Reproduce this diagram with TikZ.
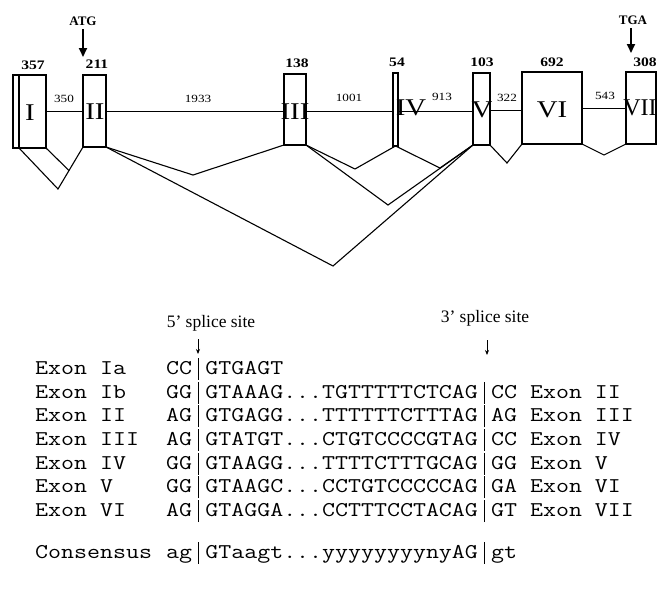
\documentclass[tikz,border=0pt]{standalone}
\usepackage{fontspec}
\setmainfont{Liberation Serif}
\usetikzlibrary{arrows.meta,calc}
\newcommand{\sx}[1]{\scalebox{1.2}[1]{#1}}
\newcommand{\mono}[1]{\scalebox{1.2}[1]{\ttfamily #1}}
\newcommand{\sbar}{\makebox[0.525em]{\rule[-0.26em]{0.055em}{1.05em}}}
\begin{document}
\begin{tikzpicture}[x=1pt,y=-1pt,
  ebox/.style={draw, line width=1.8pt, inner sep=0pt, outer sep=0pt},
  intron/.style={line width=0.7pt},
  splice/.style={line width=1.1pt, line join=miter},
  rom/.style={inner sep=0pt, font=\fontsize{24}{24}\selectfont},
  len/.style={inner sep=0pt, font=\fontsize{13}{13}\selectfont\bfseries},
  ilen/.style={inner sep=0pt, font=\fontsize{11}{11}\selectfont},
  cod/.style={inner sep=0pt, font=\fontsize{13}{13}\selectfont\bfseries},
  bigarrow/.style={line width=2pt, -{Triangle[width=8pt,length=9pt]}},
  site/.style={inner sep=0pt, font=\fontsize{17.5}{17.5}\selectfont},
  smallarrow/.style={line width=0.8pt, -{Stealth[width=4pt,length=5pt]}},
  seq/.style={inner sep=0pt, anchor=base west, font=\fontsize{21}{21}\selectfont}
]
\useasboundingbox (0,0) rectangle (657,592);

% exons
\node[ebox, minimum width=6pt, minimum height=73pt] (e1a) at (16,111.5) {};
\node[ebox, minimum width=27pt, minimum height=73pt] (e1) at (32.5,111.5) {};
\node[ebox, minimum width=23pt, minimum height=72pt] (e2) at (94.5,111) {};
\node[ebox, minimum width=22pt, minimum height=71pt] (e3) at (295,109.5) {};
\node[ebox, minimum width=5pt, minimum height=73pt] (e4) at (395.5,109.5) {};
\node[ebox, minimum width=17pt, minimum height=72pt] (e5) at (481.5,109) {};
\node[ebox, minimum width=60pt, minimum height=72pt] (e6) at (552,108) {};
\node[ebox, minimum width=30pt, minimum height=72pt] (e7) at (641,108) {};

% introns
\draw[intron] (e1.east |- e2.east) -- (e2.west);
\draw[intron] (e2.east) -- (e3.west |- e2.east);
\draw[intron] (e3.east |- e2.east) -- (e4.west |- e2.east);
\draw[intron] (e4.east |- e2.east) -- (e5.west |- e2.east);
\draw[intron] (e5.east |- 0,110) -- (e6.west |- 0,110);
\draw[intron] (e6.east |- 0,108) -- (e7.west |- 0,108);

% splicing
\coordinate (a1) at (58,189);
\coordinate (a2) at (193,175);
\coordinate (a3) at (333,266);
\coordinate (a4) at (355,169);
\coordinate (a5) at (388,205);
\coordinate (a6) at (440,168);
\coordinate (a7) at (507,163);
\coordinate (a8) at (604,155);
\draw[splice] (e1.south west) -- (a1) -- (e2.south west);
\draw[splice] (e1.south east) -- ($(a1)!0.44!(e2.south west)$);
\draw[splice] (e2.south east) -- (a2) -- (e3.south west);
\draw[splice] (e2.south east) -- (a3) -- (e5.south west);
\draw[splice] (e3.south east) -- (a4) -- (e4.south);
\draw[splice] (e3.south east) -- (a5) -- (e5.south west);
\draw[splice] (e4.south) -- (a6) -- (e5.south west);
\draw[splice] (e5.south east) -- (a7) -- (e6.south west);
\draw[splice] (e6.south east) -- (a8) -- (e7.south west);

% roman numerals
\node[rom] (r1) at (30,113) {\sx{I}};
\node[rom] (r2) at (95,112) {\sx{II}};
\node[rom] (r3) at (295,112) {\sx{III}};
\node[rom] (r4) at (411,108) {\sx{IV}};
\node[rom] (r5) at (482,110) {\sx{V}};
\node[rom] (r6) at (552,110) {\sx{VI}};
\node[rom] (r7) at (640,108) {VII};

% exon lengths
\node[len] (l1) at (33,65) {\sx{357}};
\node[len] (l2) at (97,64) {\sx{211}};
\node[len] (l3) at (297,63) {\sx{138}};
\node[len] (l4) at (397,62) {\sx{54}};
\node[len] (l5) at (482,62) {\sx{103}};
\node[len] (l6) at (552,62) {\sx{692}};
\node[len] (l7) at (645,62) {\sx{308}};

% intron lengths
\node[ilen] (i1) at (64,99) {\sx{350}};
\node[ilen] (i2) at (198,99) {\sx{1933}};
\node[ilen] (i3) at (349,98) {\sx{1001}};
\node[ilen] (i4) at (442,97) {\sx{913}};
\node[ilen] (i5) at (507,98) {\sx{322}};
\node[ilen] (i6) at (605,96) {\sx{543}};

% start / stop codons
\node[cod] (atg) at (83,21) {ATG};
\coordinate (atgend) at (83,57);
\draw[bigarrow] (83,29) -- (atgend);
\node[cod] (tga) at (633,20) {TGA};
\coordinate (tgaend) at (631,53);
\draw[bigarrow] (631,28) -- (tgaend);

% splice site labels
\node[site] (s5) at (211,323) {5’ splice site};
\coordinate (s5end) at (198,354);
\draw[smallarrow] (198,339) -- (s5end);
\node[site] (s3) at (485,318) {3’ splice site};
\coordinate (s3end) at (487,355);
\draw[smallarrow] (487,340) -- (s3end);

% sequence table
\node[seq] (n0) at (35,374.4) {\mono{Exon Ia}};
\node[seq] (q0) at (166,374.4) {\mono{CC\sbar GTGAGT}};
\node[seq] (n1) at (35,398.1) {\mono{Exon Ib}};
\node[seq] (q1) at (166,398.1) {\mono{GG\sbar GTAAAG...TGTTTTTCTCAG\sbar CC Exon II}};
\node[seq] (n2) at (35,421.8) {\mono{Exon II}};
\node[seq] (q2) at (166,421.8) {\mono{AG\sbar GTGAGG...TTTTTTCTTTAG\sbar AG Exon III}};
\node[seq] (n3) at (35,445.5) {\mono{Exon III}};
\node[seq] (q3) at (166,445.5) {\mono{AG\sbar GTATGT...CTGTCCCCGTAG\sbar CC Exon IV}};
\node[seq] (n4) at (35,469.2) {\mono{Exon IV}};
\node[seq] (q4) at (166,469.2) {\mono{GG\sbar GTAAGG...TTTTCTTTGCAG\sbar GG Exon V}};
\node[seq] (n5) at (35,492.9) {\mono{Exon V}};
\node[seq] (q5) at (166,492.9) {\mono{GG\sbar GTAAGC...CCTGTCCCCCAG\sbar GA Exon VI}};
\node[seq] (n6) at (35,516.6) {\mono{Exon VI}};
\node[seq] (q6) at (166,516.6) {\mono{AG\sbar GTAGGA...CCTTTCCTACAG\sbar GT Exon VII}};
\node[seq] (ncons) at (35,558.4) {\mono{Consensus}};
\node[seq] (qcons) at (166,558.4) {\mono{ag\sbar GTaagt...yyyyyyyynyAG\sbar gt}};
\end{tikzpicture}
\end{document}
